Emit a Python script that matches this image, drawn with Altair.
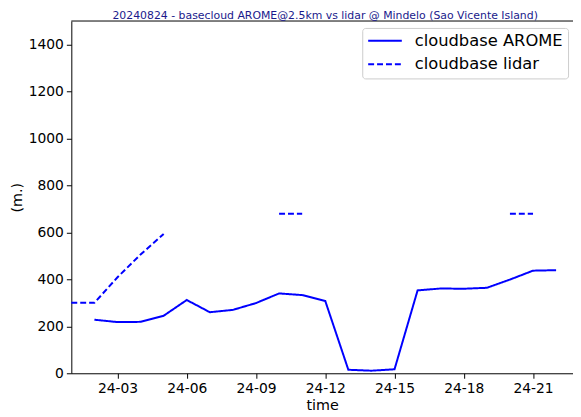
import altair as alt
import pandas as pd

# ---- data ----
arome_hours = list(range(2, 23))
arome_values = [228, 218, 219, 245, 312, 260, 270, 299, 340, 333, 308,
                15, 11, 17, 353, 361, 360, 364, 399, 437, 439]
lidar_hours = [1, 2, 3, 4, 5, 10, 11, 20, 21]
lidar_values = [300, 300, 409, 506, 593, 679, 679, 679, 679]
lidar_segment = [0, 0, 0, 0, 0, 1, 1, 2, 2]
series_names = ["cloudbase AROME", "cloudbase lidar"]
x_tick_hours = [3, 6, 9, 12, 15, 18, 21]
y_tick_values = [0, 200, 400, 600, 800, 1000, 1200, 1400]
title_text = "20240824 - basecloud AROME@2.5km vs lidar @ Mindelo (Sao Vicente Island)"

W = 507
H = 356
XMIN = 1
XMAX = 1 + W / 23.33

arome_df = pd.DataFrame({"hour": arome_hours, "value": arome_values,
                         "series": series_names[0], "seg": 0})
lidar_df = pd.DataFrame({"hour": lidar_hours, "value": lidar_values,
                         "series": series_names[1], "seg": lidar_segment})
top_df = pd.DataFrame({"value": [1500]})

x_enc = alt.X("hour:Q",
              scale=alt.Scale(domain=[XMIN, XMAX], nice=False, zero=False),
              axis=alt.Axis(values=x_tick_hours, title="time", grid=False,
                            labelExpr="'24-' + (datum.value < 10 ? '0' : '') + datum.value"))
y_enc = alt.Y("value:Q",
              scale=alt.Scale(domain=[0, 1500], nice=False),
              axis=alt.Axis(values=y_tick_values, title="(m.)", grid=False, format="d"))
dash_enc = alt.StrokeDash("series:N",
                          scale=alt.Scale(domain=series_names, range=[[1, 0], [6, 3]]),
                          legend=alt.Legend(title=None, orient="none", legendX=294, legendY=7,
                                            symbolType="stroke", symbolSize=1156,
                                            symbolStrokeColor="#0000ff", symbolStrokeWidth=2,
                                            labelFontSize=16.5, labelFont="DejaVu Sans",
                                            labelColor="#000000", labelOffset=12,
                                            clipHeight=16,
                                            fillColor="white", strokeColor="#cccccc",
                                            cornerRadius=3, padding=5, rowPadding=6.6))

arome = alt.Chart(arome_df).mark_line(color="#0000ff", strokeWidth=2).encode(
    x=x_enc, y=y_enc, strokeDash=dash_enc, detail="seg:N")
lidar = alt.Chart(lidar_df).mark_line(color="#0000ff", strokeWidth=2).encode(
    x=x_enc, y=y_enc, strokeDash=dash_enc, detail="seg:N")
top_line = alt.Chart(top_df).mark_rule(color="#000000", strokeWidth=1).encode(
    y=alt.Y("value:Q"))

chart = alt.layer(arome, lidar, top_line).properties(
    width=W, height=H,
    title=alt.Title(title_text, fontSize=11, font="DejaVu Sans", color="#1a1a8c",
                    fontWeight="normal", offset=0, dx=3),
    autosize=alt.AutoSizeParams(type="none"),
    padding={"left": 64, "top": 11, "right": 0, "bottom": 40},
).configure_view(stroke=None).configure_axis(
    domainColor="#000000", tickColor="#000000", labelColor="#000000",
    titleColor="#000000", labelFont="DejaVu Sans", titleFont="DejaVu Sans",
    labelFontSize=14, titleFontSize=14.5, titleFontWeight="normal",
    tickSize=5, labelPadding=3, domainWidth=1
)

chart.save("out.html", embed_options={"renderer": "svg", "actions": False})
